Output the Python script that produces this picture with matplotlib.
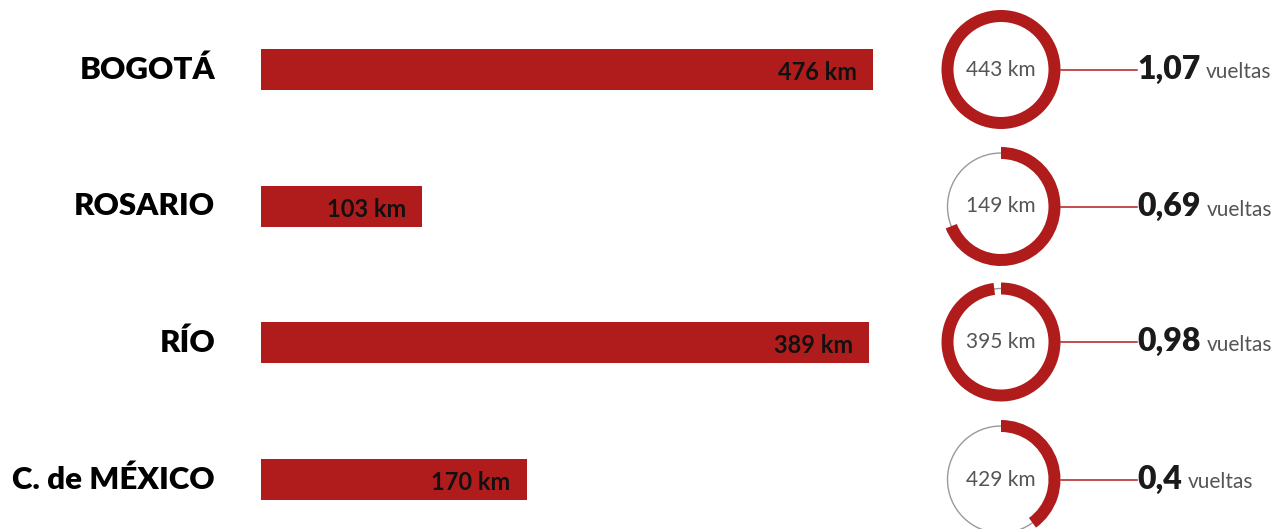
import matplotlib
matplotlib.use('Agg')
import matplotlib.pyplot as plt
from matplotlib.patches import Circle

# datos
ciudades = ['BOGOTÁ', 'ROSARIO', 'RÍO', 'C. de MÉXICO']
km_recorrido = [476, 103, 389, 170]
km_circuito = [443, 149, 395, 429]
vueltas = [1.07, 0.69, 0.98, 0.4]

rojo = '#b01c1c'
gris = '#555555'
plt.rcParams['font.family'] = ['Lato', 'DejaVu Sans']

W, H = 1285, 529
fig = plt.figure(figsize=(W / 100, H / 100), dpi=100)

# centros de cada fila en pixeles (desde arriba)
filas_y = [69.5, 206.5, 342, 479.5]
paso = 136.7

# barras
ax = fig.add_axes([261 / W, 0, 612 / W, 1])
xmax = 391.5
ax.set_xlim(0, xmax)
ax.set_ylim(3 + (H - filas_y[-1]) / paso, -filas_y[0] / paso)
ax.barh(range(len(ciudades)), km_recorrido, height=41 / paso, color=rojo)
ax.axis('off')

for i, v in enumerate(km_recorrido):
    ax.annotate(f'{v} km', xy=(min(v, xmax), i), xytext=(-16, -3),
                textcoords='offset pixels', ha='right', va='center',
                fontsize=17, fontweight='bold', color='#111111')
    ax.annotate(ciudades[i], xy=(0, i), xytext=(-46, 0),
                textcoords='offset pixels', ha='right', va='center',
                fontsize=22.5, fontweight='heavy', color='#000000',
                annotation_clip=False)

# anillos
cx = 1001
lado = 130
for i, yc in enumerate(filas_y):
    axd = fig.add_axes([(cx - lado / 2) / W, (H - yc - lado / 2) / H, lado / W, lado / H])
    axd.add_patch(Circle((0, 0), 53.5, fill=False, ec='#9a9a9a', lw=1))
    axd.pie([min(vueltas[i], 1)], normalize=False, radius=59.5, startangle=90,
            counterclock=False, colors=[rojo], wedgeprops=dict(width=12, lw=0))
    axd.set_xlim(-lado / 2, lado / 2)
    axd.set_ylim(-lado / 2, lado / 2)
    axd.set_aspect('equal')
    axd.axis('off')
    axd.text(0, 0, f'{km_circuito[i]} km', ha='center', va='center',
             fontsize=15, fontweight='normal', color=gris)
    axd.plot([59.5, 136], [0, 0], color=rojo, lw=1.1, clip_on=False)

# texto de vueltas
fig.canvas.draw()
renderer = fig.canvas.get_renderer()
for i, yc in enumerate(filas_y):
    num = f'{vueltas[i]:g}'.replace('.', ',')
    t = fig.text(1137 / W, (H - yc - 9) / H, num, ha='left', va='baseline',
                 fontsize=23, fontweight='heavy', color='#1a1a1a')
    ancho = t.get_window_extent(renderer).width
    fig.text((1137 + ancho + 6) / W, (H - yc - 9) / H, 'vueltas', ha='left',
             va='baseline', fontsize=15, fontweight='normal', color=gris)

fig.savefig('out.png', dpi=100)
